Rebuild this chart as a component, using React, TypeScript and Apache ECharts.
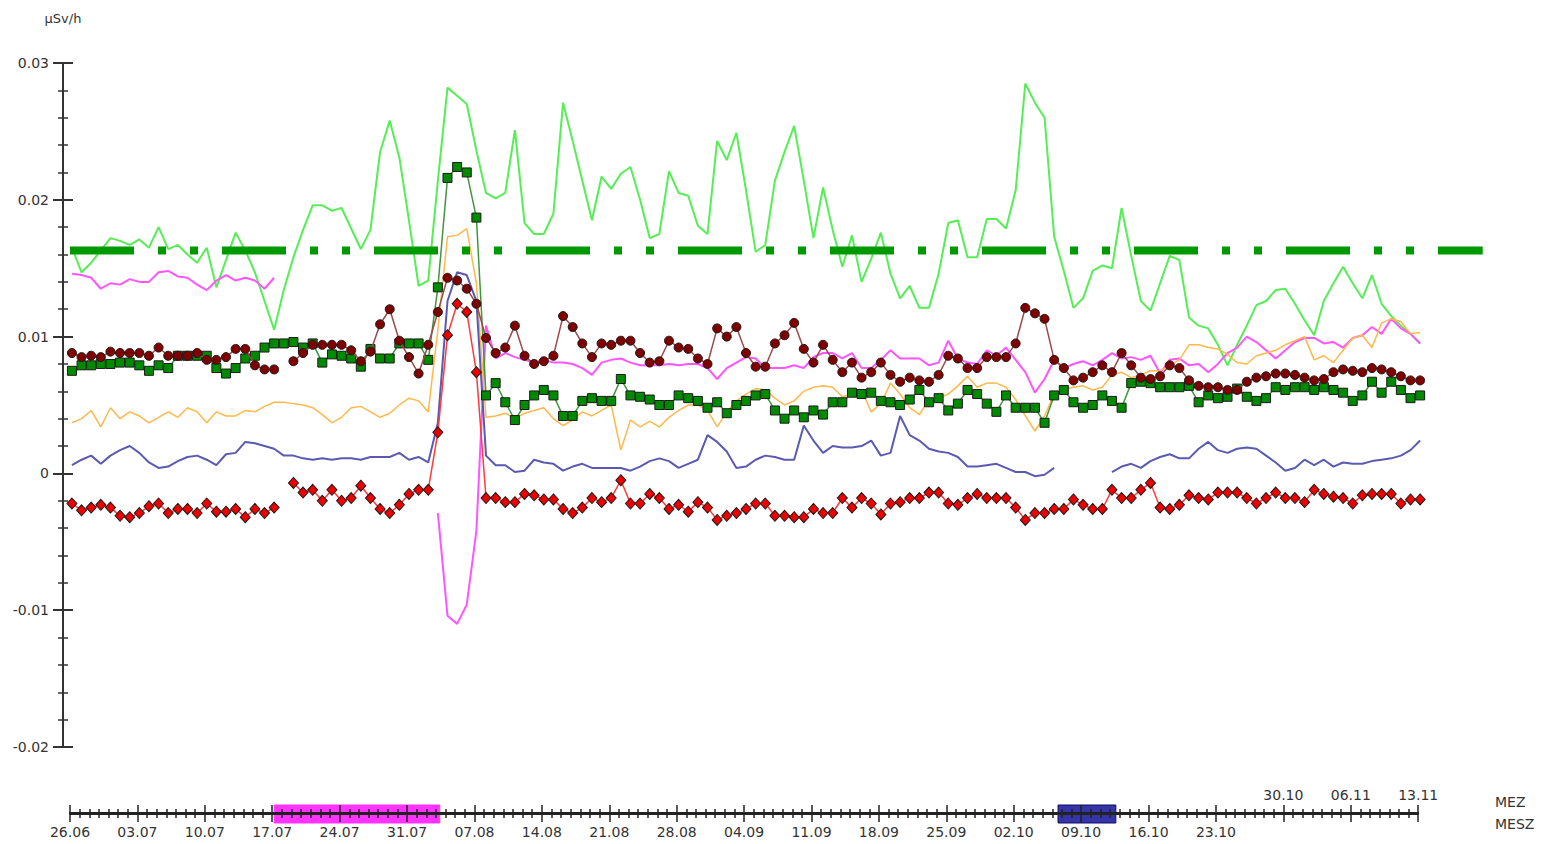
import React, { useEffect, useRef } from "react";
import * as echarts from "echarts";

// ---------- calendar / axis set-up ----------
const START_UTC = Date.UTC(2011, 5, 26); // 26.06
const DAY_MS = 86400000;
const TIMELINE_DAYS = 140; // 26.06 .. 13.11
const PLOT_DAYS = 147;
const SAMPLE_OFFSET = 0.2; // daily values are plotted slightly after midnight
const LAST_SUMMER_LABEL_DAY = 119; // 23.10 (MESZ row)
const FIRST_WINTER_LABEL_DAY = 126; // 30.10 (MEZ row)
const Y_MIN = -0.02;
const Y_MAX = 0.03;
const Y_STEP = 0.01;
const UNIT = "µSv/h";

const limitValue = 0.0163;
const limitFromDay = 0;
const limitToDay = 146.7;

const periodStarts = [21.2, 102.6];
const periodEnds = [38.4, 108.6];
const periodColors = ["#ff33ff", "#3535a8"];
const periodBorders = ["#ff33ff", "#0c0c66"];

// ---------- series (µSv/h, one value per day) ----------
const lightGreen = [
  0.0165, 0.0147, 0.0154, 0.0163, 0.0172, 0.017, 0.0167, 0.0171, 0.0165, 0.018,
  0.0164, 0.0167, 0.016, 0.0154, 0.0165, 0.0136, 0.0156, 0.0176, 0.0163, 0.0147,
  0.0126, 0.0105, 0.0134, 0.0158, 0.0178, 0.0196, 0.0196, 0.0192, 0.0194, 0.0179,
  0.0164, 0.0178, 0.0235, 0.0258, 0.0231, 0.0185, 0.0137, 0.0141, 0.0214, 0.0282,
  0.0276, 0.027, 0.0236, 0.0205, 0.0201, 0.0205, 0.0251, 0.0183, 0.0175, 0.0175,
  0.019, 0.0271, 0.0243, 0.0214, 0.0185, 0.0217, 0.0208, 0.0219, 0.0224, 0.02,
  0.0172, 0.0175, 0.0221, 0.0205, 0.0203, 0.0181, 0.0175, 0.0243, 0.0229, 0.0249,
  0.0207, 0.0162, 0.0167, 0.0214, 0.0235, 0.0254, 0.0214, 0.0172, 0.0209, 0.0178,
  0.0151, 0.0174, 0.014, 0.0157, 0.0176, 0.0146, 0.0128, 0.0137, 0.0121, 0.0121,
  0.0146, 0.0183, 0.0185, 0.0158, 0.0158, 0.0186, 0.0186, 0.0179, 0.0207, 0.0285,
  0.0271, 0.026, 0.0173, 0.0148, 0.0121, 0.0128, 0.0148, 0.0152, 0.015, 0.0194,
  0.0159, 0.0126, 0.0119, 0.0139, 0.0159, 0.0156, 0.0114, 0.0108, 0.0106, 0.0094,
  0.0079, 0.0094, 0.0108, 0.0123, 0.0126, 0.0134, 0.0135, 0.0124, 0.0112, 0.0101,
  0.0126, 0.0139, 0.0151, 0.0139, 0.0128, 0.0145, 0.0124, 0.0115, 0.0108, 0.0102,
  0.0095,
];

const magenta = [
  0.0146, 0.0145, 0.0143, 0.0135, 0.0139, 0.0138, 0.0142, 0.014, 0.014, 0.0147,
  0.0148, 0.0144, 0.0143, 0.0138, 0.0134, 0.0141, 0.0145, 0.0141, 0.0143, 0.0141,
  0.0135, 0.0143, null, null, null, null, null, null, null, null,
  null, null, null, null, null, null, null, null, -0.0029, -0.0104,
  -0.011, -0.0096, -0.0042, 0.0108, 0.0084, 0.0088, 0.0085, 0.0083, 0.0081, 0.0083,
  0.0081, 0.0081, 0.008, 0.0077, 0.0072, 0.0081, 0.0083, 0.0084, 0.0081, 0.0079,
  0.0079, 0.0079, 0.008, 0.0079, 0.008, 0.008, 0.0077, 0.0069, 0.0077, 0.0081,
  0.0085, 0.0084, 0.0077, 0.0077, 0.0077, 0.0079, 0.0077, 0.0085, 0.0088, 0.0088,
  0.0084, 0.0088, 0.0077, 0.0077, 0.0083, 0.009, 0.0084, 0.0084, 0.0084, 0.0079,
  0.0081, 0.0097, 0.0084, 0.0081, 0.008, 0.009, 0.0086, 0.0092, 0.0083, 0.0074,
  0.0059, 0.0069, 0.0083, 0.0077, 0.008, 0.0082, 0.0079, 0.0083, 0.0088, 0.0084,
  0.0085, 0.0083, 0.0086, 0.0073, 0.0083, 0.0084, 0.0079, 0.008, 0.0074, 0.008,
  0.0088, 0.0092, 0.01, 0.0096, 0.009, 0.0084, 0.009, 0.0096, 0.0099, 0.0099,
  0.0095, 0.0096, 0.0092, 0.0099, 0.0101, 0.0107, 0.0102, 0.0113, 0.0106, 0.0102,
  0.0095,
];

const orange = [
  0.0037, 0.004, 0.0046, 0.0034, 0.0048, 0.004, 0.0045, 0.0042, 0.0037, 0.0041,
  0.0045, 0.0041, 0.0048, 0.0045, 0.0037, 0.0045, 0.0042, 0.0042, 0.0046, 0.0045,
  0.0049, 0.0052, 0.0052, 0.0051, 0.005, 0.0048, 0.0043, 0.0037, 0.0041, 0.0048,
  0.0049, 0.0045, 0.0041, 0.0044, 0.005, 0.0055, 0.0053, 0.0045, 0.0105, 0.0173,
  0.0174, 0.0179, 0.0139, 0.0041, 0.0042, 0.0044, 0.004, 0.0044, 0.0046, 0.0048,
  0.004, 0.0035, 0.0039, 0.0045, 0.0042, 0.0046, 0.005, 0.0017, 0.0039, 0.0034,
  0.0038, 0.0034, 0.0041, 0.0046, 0.005, 0.005, 0.0046, 0.0034, 0.0045, 0.0053,
  0.0058, 0.0062, 0.0061, 0.0055, 0.005, 0.0053, 0.006, 0.0063, 0.0064, 0.0063,
  0.0056, 0.0058, 0.0061, 0.0045, 0.0051, 0.0066, 0.0058, 0.0048, 0.0043, 0.0054,
  0.0055, 0.0058, 0.0064, 0.0071, 0.0063, 0.0066, 0.0066, 0.0063, 0.0054, 0.0042,
  0.0031, 0.0042, 0.0058, 0.0061, 0.0063, 0.0064, 0.0061, 0.0063, 0.0072, 0.0074,
  0.007, 0.0072, 0.0075, 0.0075, 0.0079, 0.0083, 0.0094, 0.0094, 0.0092, 0.0091,
  0.0087, 0.0081, 0.008, 0.0086, 0.0088, 0.009, 0.0094, 0.0097, 0.01, 0.0083,
  0.0086, 0.0081, 0.009, 0.0099, 0.0101, 0.0092, 0.011, 0.0113, 0.0111, 0.0102,
  0.0103,
];

const blue = [
  0.0006, 0.001, 0.0013, 0.0007, 0.0013, 0.0017, 0.002, 0.0015, 0.0008, 0.0004,
  0.0005, 0.0009, 0.0012, 0.0013, 0.001, 0.0006, 0.0014, 0.0015, 0.0023, 0.0022,
  0.002, 0.0018, 0.0013, 0.0013, 0.0011, 0.001, 0.0011, 0.001, 0.0011, 0.0011,
  0.001, 0.0012, 0.0012, 0.0012, 0.0015, 0.001, 0.0012, 0.0008, 0.0037, 0.0126,
  0.0147, 0.0145, 0.0126, 0.0013, 0.0006, 0.0006, 0.0001, 0.0002, 0.001, 0.0008,
  0.0007, 0.0002, 0.0005, 0.0007, 0.0004, 0.0004, 0.0004, 0.0004, 0.0002, 0.0005,
  0.0009, 0.0011, 0.0009, 0.0004, 0.0007, 0.001, 0.0028, 0.0023, 0.0016, 0.0004,
  0.0005, 0.001, 0.0013, 0.0012, 0.001, 0.001, 0.0035, 0.0024, 0.0015, 0.002,
  0.0019, 0.0019, 0.002, 0.0024, 0.0013, 0.0015, 0.0042, 0.0028, 0.0024, 0.0018,
  0.0016, 0.0015, 0.0012, 0.0005, 0.0005, 0.0006, 0.0007, 0.0004, 0.0001, 0.0001,
  -0.0002, -0.0001, 0.0004, null, null, null, null, null, 0.0001, 0.0005,
  0.0007, 0.0004, 0.0009, 0.0012, 0.0014, 0.0011, 0.0011, 0.0018, 0.0023, 0.0017,
  0.0015, 0.0018, 0.0019, 0.0018, 0.0013, 0.0008, 0.0002, 0.0004, 0.001, 0.0006,
  0.001, 0.0005, 0.0008, 0.0007, 0.0007, 0.0009, 0.001, 0.0011, 0.0013, 0.0017,
  0.0024,
];

const redDiamonds = [
  -0.0022, -0.0027, -0.0025, -0.0023, -0.0025, -0.0031, -0.0032, -0.0029, -0.0024, -0.0022,
  -0.0029, -0.0026, -0.0026, -0.0029, -0.0022, -0.0028, -0.0028, -0.0026, -0.0032, -0.0026,
  -0.0029, -0.0025, null, -0.0007, -0.0014, -0.0012, -0.002, -0.0012, -0.002, -0.0018,
  -0.0009, -0.0018, -0.0026, -0.0029, -0.0023, -0.0015, -0.0012, -0.0012, 0.003, 0.0101,
  0.0124, 0.0118, 0.0074, -0.0018, -0.0018, -0.0021, -0.0021, -0.0015, -0.0016, -0.0019,
  -0.0019, -0.0026, -0.0029, -0.0025, -0.0018, -0.0021, -0.0018, -0.0005, -0.0022, -0.0022,
  -0.0015, -0.0018, -0.0026, -0.0023, -0.0028, -0.0021, -0.0025, -0.0034, -0.0031, -0.0029,
  -0.0026, -0.0022, -0.0022, -0.0031, -0.0031, -0.0032, -0.0032, -0.0026, -0.0029, -0.0029,
  -0.0018, -0.0025, -0.0018, -0.0022, -0.003, -0.0022, -0.0021, -0.0018, -0.0018, -0.0014,
  -0.0014, -0.0022, -0.0023, -0.0018, -0.0015, -0.0018, -0.0018, -0.0018, -0.0025, -0.0034,
  -0.0029, -0.0029, -0.0026, -0.0026, -0.0019, -0.0023, -0.0026, -0.0026, -0.0012, -0.0018,
  -0.0018, -0.0012, -0.0007, -0.0025, -0.0026, -0.0023, -0.0016, -0.0018, -0.0019, -0.0014,
  -0.0014, -0.0014, -0.0018, -0.0022, -0.0018, -0.0014, -0.0018, -0.0018, -0.0021, -0.0012,
  -0.0015, -0.0017, -0.0018, -0.0022, -0.0016, -0.0015, -0.0015, -0.0015, -0.0022, -0.0019,
  -0.0019,
];

const darkRedCircles = [
  0.0088, 0.0085, 0.0086, 0.0085, 0.0089, 0.0088, 0.0088, 0.0088, 0.0086, 0.0092,
  0.0086, 0.0086, 0.0086, 0.0088, 0.0083, 0.0083, 0.0085, 0.0091, 0.0091, 0.0079,
  0.0076, 0.0076, null, 0.0082, 0.0088, 0.0094, 0.0094, 0.0094, 0.0094, 0.009,
  0.0082, 0.0089, 0.0109, 0.012, 0.0097, 0.0085, 0.0073, 0.0094, 0.0118, 0.0143,
  0.0141, 0.0135, 0.0124, 0.0099, 0.0088, 0.0092, 0.0108, 0.0086, 0.008, 0.0082,
  0.0086, 0.0115, 0.0107, 0.0095, 0.0085, 0.0095, 0.0094, 0.0097, 0.0097, 0.0088,
  0.0081, 0.0082, 0.0097, 0.0092, 0.0091, 0.0084, 0.008, 0.0106, 0.01, 0.0107,
  0.0088, 0.0078, 0.0078, 0.0095, 0.0101, 0.011, 0.0091, 0.0081, 0.0094, 0.0083,
  0.0074, 0.0081, 0.007, 0.0074, 0.0081, 0.0072, 0.0067, 0.007, 0.0068, 0.0067,
  0.0072, 0.0086, 0.0084, 0.0077, 0.0077, 0.0085, 0.0085, 0.0085, 0.0095, 0.0121,
  0.0117, 0.0113, 0.0083, 0.0077, 0.0068, 0.007, 0.0074, 0.0079, 0.0074, 0.0088,
  0.0079, 0.007, 0.0069, 0.0071, 0.0079, 0.0077, 0.0068, 0.0064, 0.0063, 0.0063,
  0.0061, 0.0061, 0.0067, 0.007, 0.0071, 0.0073, 0.0073, 0.0072, 0.007, 0.0068,
  0.0069, 0.0074, 0.0076, 0.0075, 0.0074, 0.0077, 0.0076, 0.0074, 0.0071, 0.0068,
  0.0068,
];

const greenSquares = [
  0.0075, 0.0079, 0.0079, 0.008, 0.008, 0.0081, 0.0081, 0.0079, 0.0075, 0.0079,
  0.0077, 0.0086, 0.0086, 0.0086, 0.0086, 0.0077, 0.0073, 0.0077, 0.0084, 0.0086,
  0.0092, 0.0095, 0.0095, 0.0096, 0.0092, 0.0095, 0.0081, 0.0087, 0.0086, 0.0084,
  0.0078, 0.0091, 0.0084, 0.0084, 0.0095, 0.0095, 0.0095, 0.0083, 0.0136, 0.0216,
  0.0224, 0.022, 0.0187, 0.0057, 0.0066, 0.0052, 0.0039, 0.005, 0.0057, 0.0061,
  0.0057, 0.0042, 0.0042, 0.0053, 0.0055, 0.0053, 0.0053, 0.0069, 0.0057, 0.0056,
  0.0054, 0.005, 0.005, 0.0057, 0.0055, 0.0053, 0.0048, 0.0052, 0.0044, 0.005,
  0.0053, 0.0057, 0.0058, 0.0046, 0.004, 0.0046, 0.0041, 0.0046, 0.0043, 0.0052,
  0.0052, 0.0059, 0.0058, 0.0059, 0.0053, 0.0052, 0.005, 0.0054, 0.0061, 0.0052,
  0.0055, 0.0046, 0.0051, 0.0061, 0.0058, 0.0051, 0.0045, 0.0057, 0.0048, 0.0048,
  0.0048, 0.0037, 0.0057, 0.0061, 0.0052, 0.0048, 0.005, 0.0057, 0.0053, 0.0048,
  0.0066, 0.0067, 0.0066, 0.0063, 0.0063, 0.0063, 0.0064, 0.0052, 0.0057, 0.0055,
  0.0056, 0.0062, 0.0056, 0.0053, 0.0055, 0.0063, 0.0061, 0.0063, 0.0063, 0.0061,
  0.0063, 0.0061, 0.0059, 0.0053, 0.0057, 0.0067, 0.0059, 0.0067, 0.0061, 0.0055,
  0.0057,
];

// ---------- layout (pixels) ----------
const PX_PER_DAY = 9.63;
const PLOT_LEFT = 70;
const FONT = "DejaVu Sans";
const INK = "#333333";

const pad = (n: number) => (n < 10 ? "0" + n : "" + n);
const dayLabel = (d: number) => {
  const dt = new Date(START_UTC + Math.round(d) * DAY_MS);
  return pad(dt.getUTCDate()) + "." + pad(dt.getUTCMonth() + 1);
};
const toPoints = (arr: (number | null)[]) =>
  arr.map((v, i) => [i + SAMPLE_OFFSET, v]);

export default function App() {
  const ref = useRef<HTMLDivElement>(null);

  useEffect(() => {
    if (!ref.current) return;
    const chart = echarts.init(ref.current, undefined, { renderer: "svg" });

    const timelineAxis = (position: "top" | "bottom") => ({
      gridIndex: 1,
      type: "value",
      position,
      min: 0,
      max: TIMELINE_DAYS,
      interval: 7,
      z: 10,
      axisLine: { show: true, onZero: false, lineStyle: { color: "#222", width: 2 } },
      axisTick: { show: true, length: 8, lineStyle: { color: "#222", width: 1.5 } },
      minorTick: { show: true, splitNumber: 7, length: 4, lineStyle: { color: "#222", width: 1.5 } },
      splitLine: { show: false },
      axisLabel: {
        show: true,
        margin: 11,
        color: INK,
        fontFamily: FONT,
        fontSize: 14,
        formatter: (v: number) =>
          position === "bottom"
            ? v <= LAST_SUMMER_LABEL_DAY ? dayLabel(v) : ""
            : v >= FIRST_WINTER_LABEL_DAY ? dayLabel(v) : "",
      },
    });

    const markerLine = (
      name: string,
      data: (number | null)[],
      lineColor: string,
      symbol: string,
      size: number | number[],
      fill: string,
      z: number
    ) => ({
      name,
      type: "line",
      xAxisIndex: 0,
      yAxisIndex: 0,
      data: toPoints(data),
      connectNulls: false,
      symbol,
      symbolSize: size,
      showSymbol: true,
      z,
      lineStyle: { color: lineColor, width: 1.5 },
      itemStyle: { color: fill, borderColor: "#1a1a1a", borderWidth: 1 },
      emphasis: { disabled: true },
    });

    const plainLine = (name: string, data: (number | null)[], color: string, width: number, z: number) => ({
      name,
      type: "line",
      xAxisIndex: 0,
      yAxisIndex: 0,
      data: toPoints(data),
      connectNulls: false,
      symbol: "none",
      z,
      lineStyle: { color, width },
      emphasis: { disabled: true },
    });

    chart.setOption({
      animation: false,
      backgroundColor: "#ffffff",
      grid: [
        { left: PLOT_LEFT, top: 63, width: PLOT_DAYS * PX_PER_DAY, height: 684 },
        { left: PLOT_LEFT, top: 813, width: TIMELINE_DAYS * PX_PER_DAY, height: 1 },
        { left: PLOT_LEFT, top: 805, width: TIMELINE_DAYS * PX_PER_DAY, height: 18 },
      ],
      xAxis: [
        { gridIndex: 0, type: "value", min: 0, max: PLOT_DAYS, show: false },
        timelineAxis("bottom"),
        timelineAxis("top"),
        { gridIndex: 2, type: "value", min: 0, max: TIMELINE_DAYS, show: false },
      ],
      yAxis: [
        {
          gridIndex: 0,
          type: "value",
          position: "left",
          min: Y_MIN,
          max: Y_MAX,
          interval: Y_STEP,
          offset: 7,
          name: UNIT,
          nameLocation: "end",
          nameGap: 38,
          nameTextStyle: { color: INK, fontFamily: FONT, fontSize: 13, align: "center" },
          axisLine: { show: true, onZero: false, lineStyle: { color: "#333", width: 2 } },
          axisTick: { show: true, length: 10, lineStyle: { color: "#333", width: 2 } },
          minorTick: { show: true, splitNumber: 5, length: 5, lineStyle: { color: "#333", width: 1.5 } },
          splitLine: { show: false },
          axisLabel: {
            margin: 14,
            color: INK,
            fontFamily: FONT,
            fontSize: 14,
            formatter: (v: number) => (Math.abs(v) < 1e-9 ? "0" : v.toFixed(2)),
          },
        },
        {
          gridIndex: 0,
          type: "value",
          position: "left",
          min: Y_MIN,
          max: Y_MAX,
          interval: Y_STEP,
          offset: 7,
          axisLine: { show: false, onZero: false },
          axisTick: { show: true, inside: true, length: 10, lineStyle: { color: "#333", width: 2 } },
          minorTick: { show: true, splitNumber: 5, length: 5, lineStyle: { color: "#333", width: 1.5 } },
          splitLine: { show: false },
          axisLabel: { show: false },
        },
        { gridIndex: 1, type: "value", min: 1, max: 2, show: false },
        { gridIndex: 2, type: "value", min: 0, max: 1, show: false },
      ],
      graphic: [
        { type: "text", left: 1495, top: 795, style: { text: "MEZ", fill: INK, font: `14px "${FONT}"` } },
        { type: "text", left: 1495, top: 817, style: { text: "MESZ", fill: INK, font: `14px "${FONT}"` } },
      ],
      series: [
        {
          name: "periods",
          type: "line",
          xAxisIndex: 3,
          yAxisIndex: 3,
          data: [[0, 0.5]],
          symbol: "none",
          lineStyle: { opacity: 0 },
          z: 1,
          markArea: {
            silent: true,
            data: periodStarts.map((s, i) => [
              {
                xAxis: s,
                yAxis: 0,
                itemStyle: { color: periodColors[i], borderColor: periodBorders[i], borderWidth: 1 },
              },
              { xAxis: periodEnds[i], yAxis: 1 },
            ]),
          },
        },
        plainLine("hellgrün", lightGreen, "#55ee55", 2, 2),
        plainLine("magenta", magenta, "#ff55ff", 2, 3),
        plainLine("orange", orange, "#ffb84a", 1.5, 3),
        plainLine("blau", blue, "#5a5ab2", 2, 3),
        markerLine("rot", redDiamonds, "#ff3a3a", "diamond", [10, 11], "#ee0000", 4),
        markerLine("dunkelgrün", greenSquares, "#3f963f", "rect", 9, "#008a00", 5),
        markerLine("dunkelrot", darkRedCircles, "#9a4a4a", "circle", 9, "#800000", 6),
        {
          name: "Grenzwert",
          type: "line",
          xAxisIndex: 0,
          yAxisIndex: 0,
          data: [
            [limitFromDay, limitValue],
            [limitToDay, limitValue],
          ],
          symbol: "none",
          z: 7,
          lineStyle: { color: "#009900", width: 8, type: [64, 24, 8, 24, 8, 24], cap: "butt" },
          emphasis: { disabled: true },
        },
      ],
    });

    return () => chart.dispose();
  }, []);

  return (
    <div
      ref={ref}
      style={{ position: "absolute", left: 0, top: 0, width: 1555, height: 844, background: "#fff" }}
    />
  );
}
